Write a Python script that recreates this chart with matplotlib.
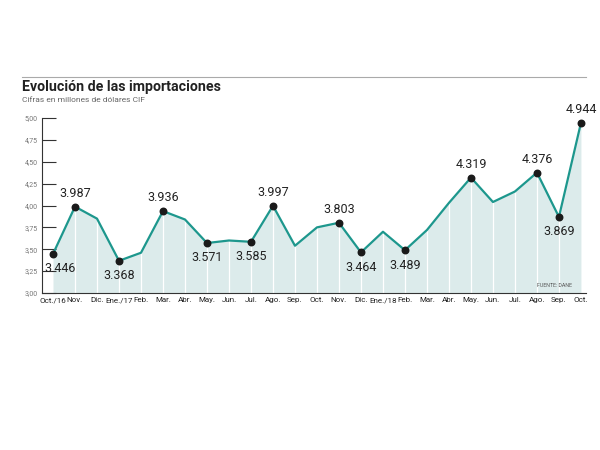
import numpy as np
import matplotlib
matplotlib.use("Agg")
import matplotlib.pyplot as plt
from matplotlib.lines import Line2D

plt.rcParams['font.family'] = ['Roboto', 'DejaVu Sans']
narrow = ['Liberation Sans Narrow', 'Roboto', 'DejaVu Sans']

# monthly imports, millions of USD CIF (thousands on the chart)
months = ["Oct./16", "Nov.", "Dic.", "Ene./17", "Feb.", "Mar.", "Abr.", "May.",
          "Jun.", "Jul.", "Ago.", "Sep.", "Oct.", "Nov.", "Dic.", "Ene./18",
          "Feb.", "Mar.", "Abr.", "May.", "Jun.", "Jul.", "Ago.", "Sep.", "Oct."]
values = [3.446, 3.987, 3.85, 3.368, 3.46, 3.936, 3.84, 3.571,
          3.60, 3.585, 3.997, 3.54, 3.75, 3.803, 3.464, 3.70,
          3.489, 3.72, 4.03, 4.319, 4.04, 4.16, 4.376, 3.869, 4.944]
# which points get a dot + label, and where the label sits
labeled = [0, 1, 3, 5, 7, 9, 10, 13, 14, 16, 19, 22, 23, 24]
label_above = [1, 5, 10, 13, 19, 22, 24]
label_text = {0: "3.446", 1: "3.987", 3: "3.368", 5: "3.936", 7: "3.571",
              9: "3.585", 10: "3.997", 13: "3.803", 14: "3.464", 16: "3.489",
              19: "4.319", 22: "4.376", 23: "3.869", 24: "4.944"}
yticks = [3.00, 3.25, 3.50, 3.75, 4.00, 4.25, 4.50, 4.75, 5.00]

x = np.arange(len(values))
teal = "#1d978d"
fill = "#dcebeb"

fig = plt.figure(figsize=(6, 4.5), dpi=100)
ax = fig.add_axes([42/600, 1-293/450, (586-42)/600, 175/450])

ax.fill_between(x, 3.0, values, color=fill, lw=0, zorder=1)
for xi, v in zip(x[1:-1], values[1:-1]):
    ax.plot([xi, xi], [3.0, v], color="white", lw=0.9, zorder=2)
ax.plot(x, values, color=teal, lw=1.6, zorder=3)
ax.scatter(x[labeled], np.array(values)[labeled], s=22, color="#1a1a1a", zorder=4)

for i in labeled:
    dx = 5 if i == 0 else 0
    if i in label_above:
        ax.annotate(label_text[i], (x[i], values[i]), xytext=(dx, 5), textcoords="offset points",
                    ha="center", va="bottom", fontsize=9, color="#222222", family=narrow)
    else:
        ax.annotate(label_text[i], (x[i], values[i]), xytext=(dx, -6), textcoords="offset points",
                    ha="center", va="top", fontsize=9, color="#222222", family=narrow)

ax.set_xlim(-0.5, 24.23)
ax.set_ylim(3.0, 5.0)
for s in ["top", "right"]:
    ax.spines[s].set_visible(False)
ax.spines["left"].set_color("#333333")
ax.spines["bottom"].set_color("#333333")
ax.spines["left"].set_linewidth(0.8)
ax.spines["bottom"].set_linewidth(0.8)

ax.set_yticks(yticks)
ax.set_yticklabels([f"{t:.2f}".replace(".", ",") for t in yticks], fontsize=5, color="#777777")
ax.tick_params(axis="y", direction="in", length=10, width=0.8, color="#333333", pad=3)
ax.set_xticks(x)
ax.set_xticklabels(months, fontsize=5.8, color="#222222", family=narrow)
ax.tick_params(axis="x", length=0, pad=3)

ax.text(0.975, 0.03, "FUENTE: DANE", transform=ax.transAxes, fontsize=3.8,
        color="#555555", ha="right", va="bottom")

fig.text(22/600, 1-87/450, "Evolución de las importaciones", fontsize=10.2,
         fontweight="bold", color="#222222", va="center")
fig.text(22/600, 1-100/450, "Cifras en millones de dólares CIF", fontsize=6,
         color="#666666", va="center")
fig.add_artist(Line2D([22/600, 586/600], [1-77/450, 1-77/450], color="#aaaaaa", lw=0.8))

fig.savefig("out.png", dpi=100)
